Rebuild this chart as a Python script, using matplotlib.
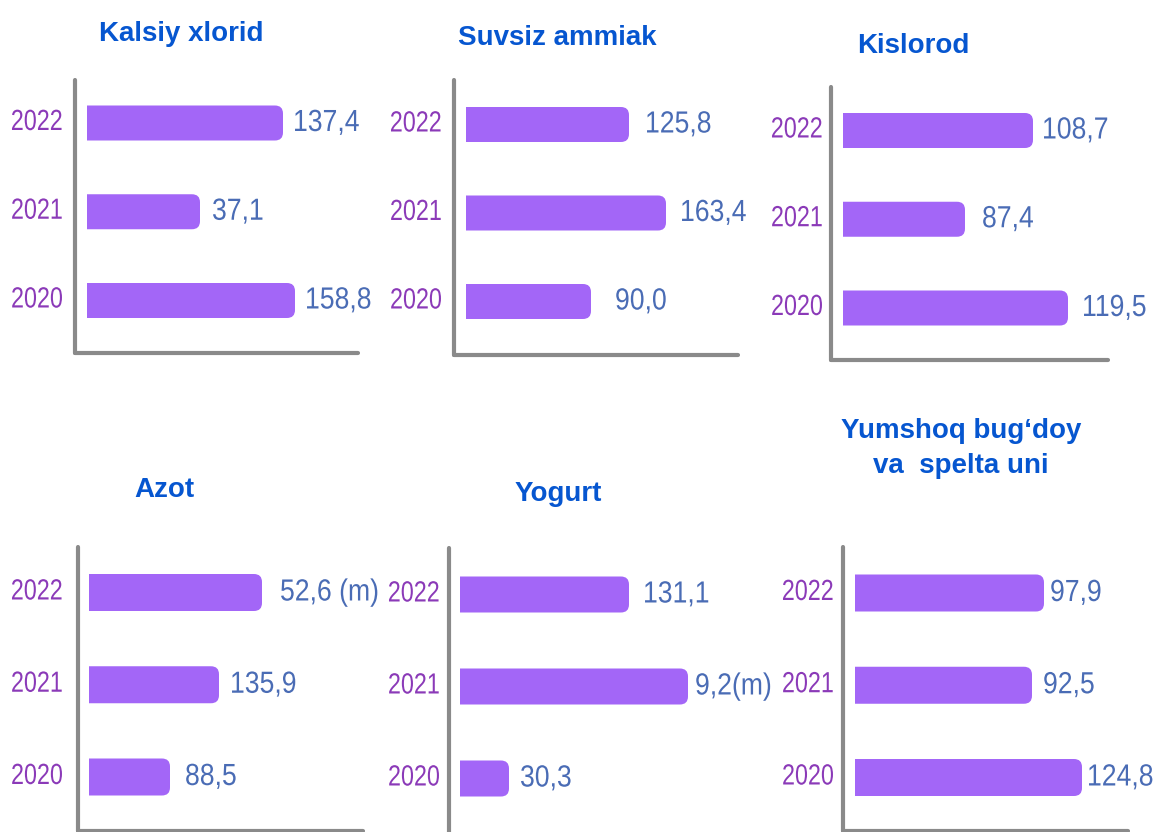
import matplotlib
matplotlib.use("Agg")
import matplotlib.pyplot as plt
from matplotlib.patches import FancyBboxPatch, Rectangle
from matplotlib.transforms import ScaledTranslation, Affine2D
from matplotlib.patheffects import AbstractPathEffect

# ---------------- data ----------------
years = ["2020", "2021", "2022"]

titles = ["Kalsiy xlorid", "Suvsiz ammiak", "Kislorod",
          "Azot", "Yogurt", "Yumshoq bug\u2018doy\nva  spelta uni"]

# value labels (order 2020, 2021, 2022)
kalsiy_labels = ["158,8", "37,1", "137,4"]
ammiak_labels = ["90,0", "163,4", "125,8"]
kislorod_labels = ["119,5", "87,4", "108,7"]
azot_labels = ["88,5", "135,9", "52,6 (m)"]
yogurt_labels = ["30,3", "9,2(m)", "131,1"]
bugdoy_labels = ["124,8", "92,5", "97,9"]

# bar extents as drawn in the picture (visual units)
kalsiy_bars = [208, 113, 196]
ammiak_bars = [125, 200, 163]
kislorod_bars = [225, 122, 190]
azot_bars = [81, 130, 173]
yogurt_bars = [49, 228, 169]
bugdoy_bars = [227, 177, 189]

panel_labels = [kalsiy_labels, ammiak_labels, kislorod_labels,
                azot_labels, yogurt_labels, bugdoy_labels]
panel_bars = [kalsiy_bars, ammiak_bars, kislorod_bars,
              azot_bars, yogurt_bars, bugdoy_bars]

# ---------------- layout (pixels, image top-origin) ----------------
W, H = 1154, 832
DPI = 100
layout = [
    dict(ax=75, top=80, bot=353, right=358, off=12, c=(300.5, 212, 123), h=35, pad=12,
         gaps=(10, 12, 10), title=(181, 41)),
    dict(ax=454, top=80, bot=355, right=738, off=12, c=(301.5, 213, 124.5), h=35, pad=12,
         gaps=(24, 14, 16), title=(557, 45)),
    dict(ax=831, top=87, bot=360, right=1108, off=12, c=(308, 219, 130.5), h=35, pad=8,
         gaps=(14, 17, 9), title=(913, 53)),
    dict(ax=78, top=547, bot=831, right=363, off=11, c=(777, 685, 592.5), h=37, pad=15,
         gaps=(15, 11, 18), title=(164, 497)),
    dict(ax=449, top=548, bot=842, right=735, off=11, c=(778.5, 686.5, 594.5), h=36, pad=9,
         gaps=(11, 7, 14), title=(558, 501)),
    dict(ax=843, top=547, bot=831, right=1128, off=12, c=(777.5, 685, 593), h=37, pad=9,
         gaps=(5, 11, 6), title=(961, 473)),
]

BAR_COLOR = "#A366F7"
YEAR_COLOR = "#8B3AB8"
VALUE_COLOR = "#4A6CB5"
TITLE_COLOR = "#0656D0"
AXIS_COLOR = "#8A8A8A"

FONT = ["Liberation Sans", "DejaVu Sans"]


class Condense(AbstractPathEffect):
    """Horizontally condense glyphs (emulates a narrow typeface)."""

    def __init__(self, sx=0.8, anchor="left"):
        super().__init__()
        self.sx = sx
        self.anchor = anchor

    def draw_path(self, renderer, gc, tpath, affine, rgbFace=None):
        v = tpath.vertices
        x0 = 0.0
        if self.anchor == "right" and len(v):
            x0 = v[:, 0].max()
        t = Affine2D().translate(-x0, 0).scale(self.sx, 1.0).translate(x0, 0) + affine
        renderer.draw_path(gc, tpath, t, rgbFace)


fig = plt.figure(figsize=(W / DPI, H / DPI), dpi=DPI)
fig.patch.set_facecolor("white")

for i, L in enumerate(layout):
    s = (L["c"][0] - L["c"][2]) / 2.0  # px per category unit
    left = L["ax"] / W
    width = (L["right"] - L["ax"]) / W
    bottom = (H - L["bot"]) / H
    height = (L["bot"] - L["top"]) / H
    ax = fig.add_axes([left, bottom, width, height])
    ax.set_facecolor("none")

    ypos = [0, 1, 2]
    ax.set_xlim(-L["off"], L["right"] - L["ax"] - L["off"])
    ax.set_ylim(-(L["bot"] - L["c"][0]) / s, 2 + (L["c"][2] - L["top"]) / s)

    bh = L["h"] / s
    bars = ax.barh(ypos, panel_bars[i], height=bh, color=BAR_COLOR, linewidth=0)
    r = 8.0
    for b in bars:
        x0, y0, w, hh = b.get_x(), b.get_y(), b.get_width(), b.get_height()
        # single rounded shape, left end hidden by clipping -> square left, round right
        fp = FancyBboxPatch((x0 - 2 * r, y0), w + 2 * r, hh,
                            boxstyle=f"round,pad=0,rounding_size={r}",
                            mutation_aspect=1.0 / s,
                            facecolor=BAR_COLOR, edgecolor="none")
        ax.add_patch(fp)
        clip = Rectangle((x0, y0 - hh), w + 50, 3 * hh, transform=ax.transData)
        fp.set_clip_path(clip)
        b.set_alpha(0.0)

    for yy, val, lab, g in zip(ypos, panel_bars[i], panel_labels[i], L["gaps"]):
        ax.text(val + g, yy, lab, va="center", ha="left", color=VALUE_COLOR,
                fontsize=22, family=FONT, path_effects=[Condense(0.87, "left")])

    ax.set_yticks(ypos)
    ax.set_yticklabels(years, color=YEAR_COLOR, fontsize=21, family=FONT)
    ax.tick_params(axis="y", length=0, pad=L["pad"] * 72 / DPI)
    for t in ax.get_yticklabels():
        t.set_transform(t.get_transform() + ScaledTranslation(0, 4 / DPI, fig.dpi_scale_trans))
        t.set_path_effects([Condense(0.80, "right")])
    ax.set_xticks([])

    for side in ("top", "right"):
        ax.spines[side].set_visible(False)
    for side in ("left", "bottom"):
        sp = ax.spines[side]
        sp.set_color(AXIS_COLOR)
        sp.set_linewidth(3.0)
        sp.set_capstyle("round")

    tx, ty = L["title"]
    fig.text(tx / W, 1 - ty / H, titles[i], ha="center", va="baseline",
             color=TITLE_COLOR, fontsize=20, fontweight="bold", family=FONT,
             linespacing=1.45, multialignment="center")

fig.savefig("out.png", dpi=DPI, facecolor="white")
